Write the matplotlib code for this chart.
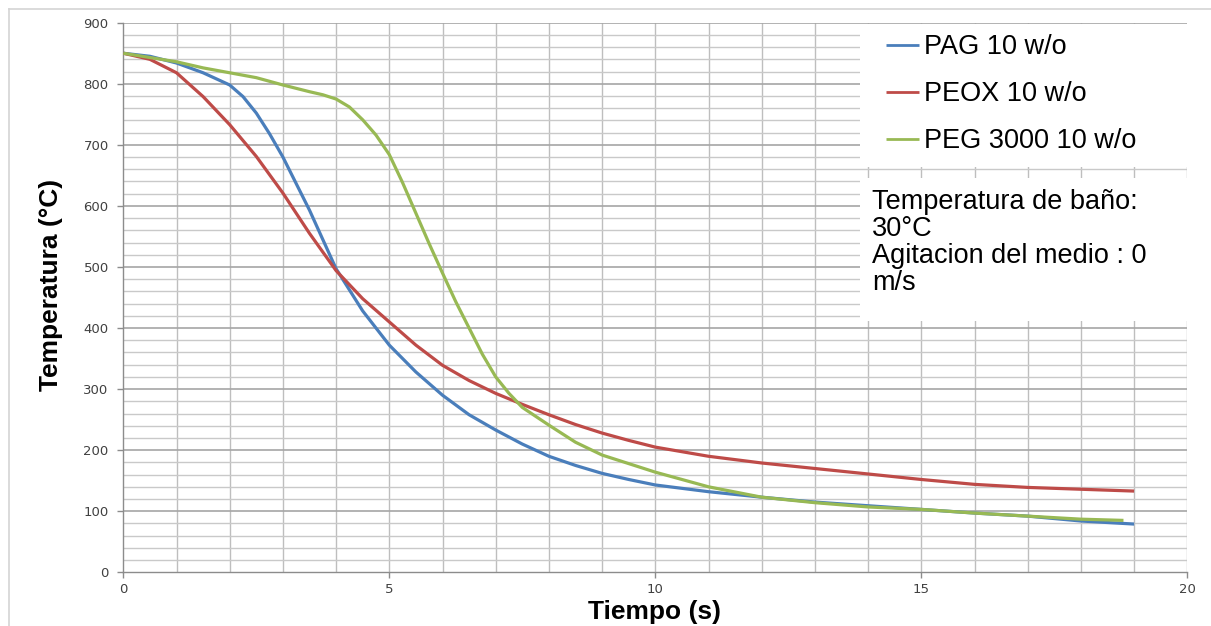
import matplotlib
matplotlib.use("Agg")
import matplotlib.pyplot as plt
from matplotlib.patches import Rectangle
from matplotlib.lines import Line2D

# ---- data ----
t_pag = [0, 0.5, 1, 1.5, 2, 2.25, 2.5, 2.75, 3, 3.5, 4, 4.5, 5, 5.5, 6, 6.5, 7, 7.5, 8, 8.5, 9, 9.5, 10, 11, 12, 13, 14, 15, 16, 17, 18, 19]
T_pag = [850, 845, 834, 818, 798, 779, 752, 718, 680, 593, 497, 428, 372, 328, 290, 258, 233, 210, 190, 175, 162, 152, 143, 132, 123, 115, 109, 103, 97, 92, 84, 79]

t_peox = [0, 0.5, 1, 1.5, 2, 2.5, 3, 3.5, 4, 4.5, 5, 5.5, 6, 6.5, 7, 7.5, 8, 8.5, 9, 9.5, 10, 11, 12, 13, 14, 15, 16, 17, 18, 19]
T_peox = [850, 840, 818, 779, 733, 681, 621, 555, 494, 448, 410, 372, 339, 314, 293, 275, 258, 242, 228, 216, 205, 190, 179, 170, 161, 152, 144, 139, 136, 133]

t_peg = [0, 0.5, 1, 1.5, 2, 2.5, 3, 3.5, 3.75, 4, 4.25, 4.5, 4.75, 5, 5.25, 5.5, 5.75, 6, 6.25, 6.5, 6.75, 7, 7.25, 7.5, 8, 8.5, 9, 9.5, 10, 10.5, 11, 12, 13, 14, 15, 16, 17, 18, 18.8]
T_peg = [850, 843, 836, 826, 818, 810, 798, 787, 782, 775, 762, 741, 716, 684, 638, 588, 538, 490, 443, 400, 357, 320, 293, 270, 241, 213, 192, 178, 164, 152, 140, 123, 114, 107, 103, 97, 92, 87, 85]

series_labels = ["PAG 10 w/o", "PEOX 10 w/o", "PEG 3000 10 w/o"]
series_colors = ["#4A7EBB", "#BE4B48", "#98B954"]

x_ticks = [0, 5, 10, 15, 20]
y_ticks = [0, 100, 200, 300, 400, 500, 600, 700, 800, 900]

note_lines = ["Temperatura de baño:", "30°C", "Agitacion del medio : 0", "m/s"]

# ---- figure ----
W, H = 1211, 626
fig = plt.figure(figsize=(W / 100, H / 100), dpi=100)
fig.patch.set_facecolor("white")

left, right, top, bottom = 123.3, 1187.3, 22.7, 572.3
ax = fig.add_axes([left / W, 1 - bottom / H, (right - left) / W, (bottom - top) / H])

ax.set_xlim(0, 20)
ax.set_ylim(0, 900)

# grid
for xv in range(1, 21):
    ax.axvline(xv, color="#BEBEBE", lw=1.0, zorder=0.5)
for yv in range(20, 901, 20):
    if yv % 100 == 0:
        ax.axhline(yv, color="#A6A6A6", lw=1.2, zorder=0.6)
    else:
        ax.axhline(yv, color="#C9C9C9", lw=1.0, zorder=0.5)

# white boxes (legend area & note area)
ax.add_patch(Rectangle((13.85, 664), 20 - 13.85, 898.5 - 664, facecolor="white",
                       edgecolor="none", zorder=1))
ax.add_patch(Rectangle((13.85, 411), 20 - 13.85, 646 - 411, facecolor="white",
                       edgecolor="none", zorder=1))

handles = []
for tt, TT, lab, col in zip([t_pag, t_peox, t_peg], [T_pag, T_peox, T_peg],
                            series_labels, series_colors):
    h, = ax.plot(tt, TT, color=col, lw=2.3, label=lab, zorder=3,
                 solid_capstyle="butt", solid_joinstyle="round")
    handles.append(h)

for s in ["top", "right"]:
    ax.spines[s].set_visible(False)
for s in ["left", "bottom"]:
    ax.spines[s].set_color("#8C8C8C")
    ax.spines[s].set_linewidth(1.0)

ax.set_xticks(x_ticks)
ax.set_yticks(y_ticks)
ax.tick_params(axis="y", direction="out", length=4.5, width=1.0, color="#8C8C8C",
               pad=6, labelsize=9.5, labelcolor="#404040")
ax.tick_params(axis="x", direction="out", length=4, width=1.0, color="#8C8C8C",
               pad=4, labelsize=9.5, labelcolor="#404040")

ax.set_ylabel("Temperatura (°C)", fontsize=19, fontweight="bold",
              family="Liberation Sans", color="black")
ax.yaxis.set_label_coords(-0.0567, 0.523)
ax.set_xlabel("Tiempo (s)", fontsize=19, fontweight="bold",
              family="Liberation Sans", color="black", va="center")
ax.xaxis.set_label_coords(0.4997, -0.073)

leg = ax.legend(handles=handles, loc="upper left",
                bbox_to_anchor=((886 - left) / (right - left), 1 - (34 - top) / (bottom - top)),
                frameon=False, prop={"family": "Liberation Sans", "size": 19.5},
                handlelength=1.2, handletextpad=0.2, labelspacing=0.78,
                borderpad=0.0, borderaxespad=0.0)
for line in leg.get_lines():
    line.set_linewidth(2.0)

ax.text((872 - left) / (right - left), 1 - (189 - top) / (bottom - top),
        "\n".join(note_lines), transform=ax.transAxes, ha="left", va="top",
        fontsize=19.5, family="Liberation Sans", color="black",
        linespacing=1.05, zorder=4)

# outer light frame (cut off at right/bottom)
fig.add_artist(Line2D([8.5 / W, 8.5 / W], [0, 1 - 8.5 / H], transform=fig.transFigure,
                      color="#D4D4D4", lw=1.2))
fig.add_artist(Line2D([8.5 / W, 1], [1 - 8.5 / H, 1 - 8.5 / H], transform=fig.transFigure,
                      color="#D4D4D4", lw=1.2))

fig.savefig("out.png", dpi=100, facecolor="white")
